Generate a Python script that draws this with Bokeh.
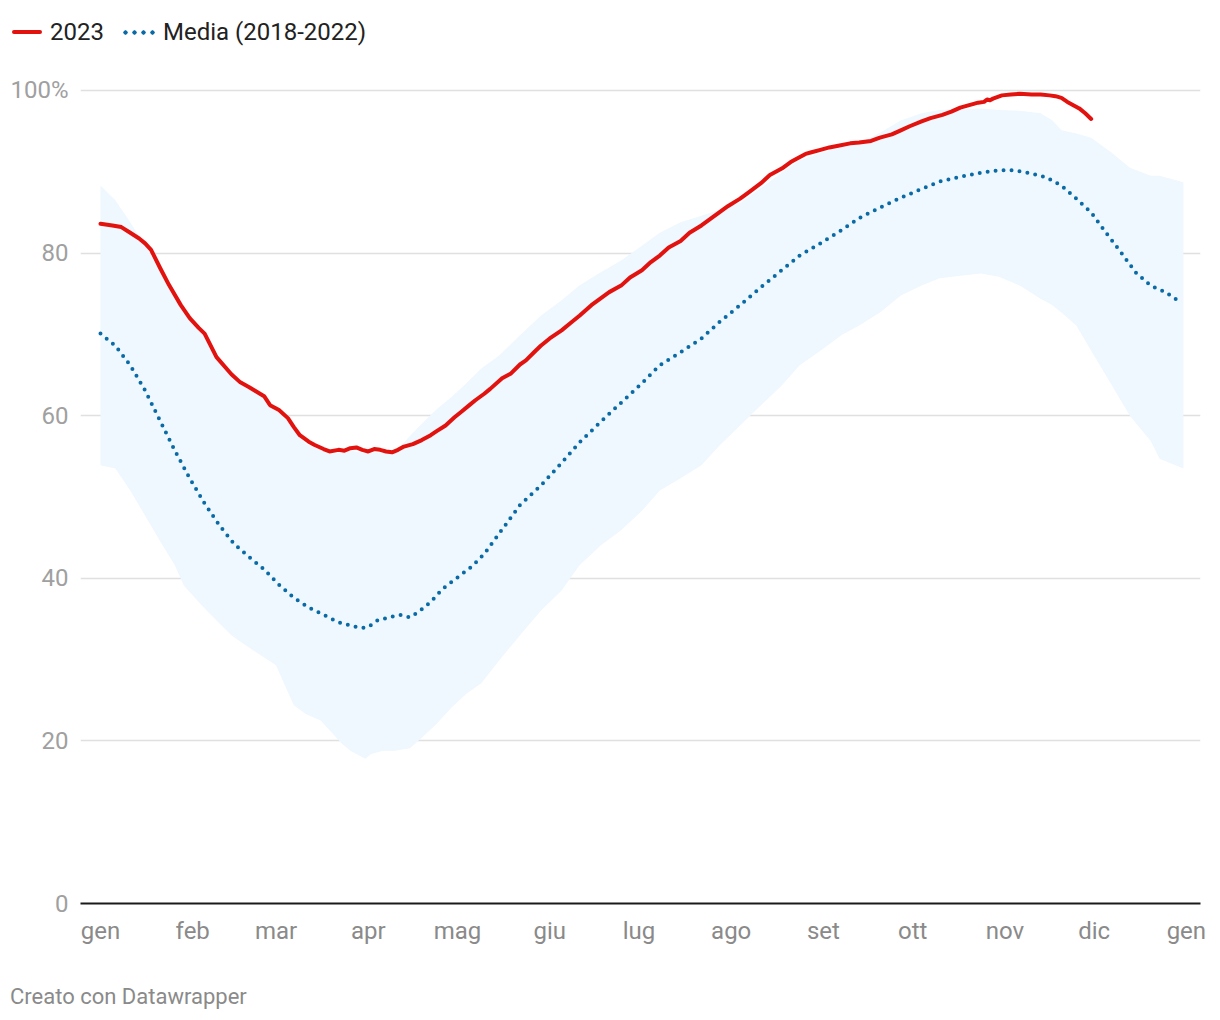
from bokeh.plotting import figure
from bokeh.layouts import column
from bokeh.models import Range1d, FixedTicker, Div
from bokeh.embed import file_html
from bokeh.resources import INLINE

# ---------------- data ----------------
month_ticks = [0, 31, 59, 90, 120, 151, 181, 212, 243, 273, 304, 334, 365]
month_labels = ["gen", "feb", "mar", "apr", "mag", "giu", "lug", "ago",
                "set", "ott", "nov", "dic", "gen"]
y_ticks = [0, 20, 40, 60, 80, 100]
series_names = ["2023", "Media (2018-2022)"]
credit = "Creato con Datawrapper"

red_days = [0, 4, 7, 10, 13, 15, 17, 20, 23, 27, 30, 33, 35, 39, 44, 47, 50, 55,
            57, 60, 63, 65, 67, 70, 72, 75, 77, 80, 82, 84, 86, 88, 90, 92, 94, 96,
            98, 100, 102, 105, 108, 111, 113, 116, 119, 121, 124, 126, 129, 131,
            135, 138, 141, 143, 146, 148, 151, 155, 158, 161, 165, 168, 171, 175,
            178, 182, 185, 188, 191, 195, 198, 202, 205, 208, 211, 215, 218, 222,
            225, 229, 232, 234, 237, 239, 242, 245, 248, 252, 255, 259, 262, 266,
            269, 272, 276, 279, 283, 286, 289, 292, 295, 297, 298, 299, 300, 303,
            306, 309, 313, 316, 319, 321, 323, 325, 327, 329, 331, 333]
red_vals = [83.6, 83.4, 83.2, 82.5, 81.8, 81.2, 80.4, 78.2, 76.1, 73.6, 72.0, 70.8,
            70.1, 67.2, 65.1, 64.1, 63.5, 62.4, 61.3, 60.7, 59.7, 58.6, 57.6, 56.8,
            56.4, 55.9, 55.6, 55.8, 55.7, 56.0, 56.1, 55.8, 55.6, 55.9, 55.8, 55.6,
            55.5, 55.8, 56.2, 56.5, 57.0, 57.6, 58.1, 58.8, 59.8, 60.4, 61.3, 61.9,
            62.7, 63.3, 64.6, 65.2, 66.3, 66.8, 67.9, 68.6, 69.5, 70.5, 71.4, 72.3,
            73.6, 74.4, 75.2, 76.0, 77.0, 77.9, 78.9, 79.7, 80.7, 81.5, 82.5, 83.4,
            84.2, 85.0, 85.8, 86.7, 87.5, 88.6, 89.6, 90.4, 91.2, 91.6, 92.2, 92.4,
            92.7, 93.0, 93.2, 93.5, 93.6, 93.8, 94.2, 94.6, 95.1, 95.6, 96.2, 96.6,
            97.0, 97.4, 97.9, 98.2, 98.5, 98.6, 98.9, 98.8, 99.0, 99.4, 99.5, 99.6,
            99.5, 99.5, 99.4, 99.3, 99.1, 98.6, 98.2, 97.8, 97.2, 96.5]

mean_days = [0, 5, 10, 15, 20, 25, 30, 35, 40, 45, 50, 55, 60, 65, 70, 75, 80, 85,
             88, 90, 93, 98, 101, 104, 107, 111, 115, 120, 125, 129, 136, 141, 148,
             155, 161, 168, 175, 182, 188, 195, 202, 208, 215, 222, 229, 235, 242,
             249, 255, 262, 269, 276, 282, 289, 296, 302, 306, 310, 313, 318, 323,
             328, 333, 338, 343, 348, 353, 358, 362]
mean_vals = [70.1, 68.6, 66.2, 63.1, 59.4, 55.7, 52.3, 49.2, 46.5, 44.2, 42.6, 41.1,
             39.2, 37.6, 36.4, 35.5, 34.6, 34.1, 33.9, 34.0, 34.8, 35.3, 35.5, 35.2,
             35.9, 37.1, 38.7, 40.1, 41.5, 43.0, 46.5, 49.0, 51.4, 54.2, 56.7, 59.2,
             61.6, 64.0, 66.2, 67.8, 69.5, 71.5, 73.6, 75.8, 77.9, 79.7, 81.2, 82.8,
             84.3, 85.6, 86.8, 87.9, 88.8, 89.4, 89.9, 90.2, 90.2, 90.0, 89.8, 89.3,
             88.3, 86.7, 85.0, 82.5, 80.1, 77.6, 76.0, 75.2, 74.2]

band_days = [0, 5, 10, 15, 20, 25, 28, 34, 39, 44, 49, 54, 59, 62, 65, 69, 74, 77,
             81, 84, 89, 91, 95, 99, 104, 108, 113, 118, 123, 128, 134, 141, 148,
             155, 161, 168, 175, 182, 188, 195, 202, 208, 215, 222, 229, 235, 242,
             249, 255, 262, 269, 276, 282, 289, 296, 302, 309, 316, 320, 323, 328,
             333, 340, 346, 353, 356, 364]
band_low = [53.9, 53.5, 50.8, 47.7, 44.6, 41.6, 39.1, 36.7, 34.8, 33.0, 31.7, 30.5,
            29.3, 26.8, 24.4, 23.3, 22.5, 21.3, 19.7, 18.8, 17.8, 18.4, 18.8, 18.8,
            19.1, 20.4, 22.1, 24.1, 25.8, 27.1, 29.9, 33.0, 36.0, 38.5, 41.6, 44.0,
            45.9, 48.3, 50.8, 52.3, 53.9, 56.3, 58.8, 61.3, 63.7, 66.2, 68.0, 69.9,
            71.1, 72.7, 74.8, 76.0, 76.9, 77.2, 77.5, 77.1, 76.0, 74.4, 73.6, 72.7,
            71.1, 68.0, 63.7, 60.0, 56.9, 54.7, 53.5]
band_high = [88.3, 86.5, 83.8, 80.9, 77.9, 75.0, 73.2, 70.3, 66.9, 64.8, 63.4, 62.4,
             60.6, 59.7, 58.3, 56.5, 55.8, 55.3, 55.4, 55.7, 55.4, 55.5, 55.4, 55.4,
             57.5, 59.0, 60.8, 62.3, 64.0, 65.8, 67.4, 69.9, 72.3, 74.2, 76.0, 77.6,
             79.1, 80.9, 82.5, 83.8, 84.6, 85.3, 86.2, 88.0, 89.9, 91.4, 92.3, 93.0,
             93.5, 94.8, 96.3, 97.2, 97.6, 97.7, 97.8, 97.6, 97.5, 97.2, 96.3, 95.1,
             94.7, 94.2, 92.3, 90.5, 89.5, 89.5, 88.7]

# ---------------- styles ----------------
FONT = "Roboto"
RED = "#e2130f"
BLUE = "#0a6aa6"
BAND = "#eef8fe"
W = 1210
LEG_H = 50
FOOT_H = 50

# ---------------- legend (HTML) ----------------
legend_html = (
    f'<div style="box-sizing:content-box;display:flex;align-items:center;height:28px;'
    f'padding:18px 0 0 12px;margin:0;'
    f'font-family:{FONT},sans-serif;font-size:24px;color:#222222;white-space:nowrap;">'
    f'<span style="display:inline-block;width:30px;height:4px;border-radius:2px;'
    f'background:{RED};"></span>'
    f'<span style="margin-left:8px;">{series_names[0]}</span>'
    f'<span style="display:inline-block;margin-left:17px;width:34px;height:5px;'
    f'background-image:radial-gradient(circle, {BLUE} 1.9px, rgba(255,255,255,0) 2.4px);'
    f'background-size:9px 5px;background-position:0 0;"></span>'
    f'<span style="margin-left:8px;">{series_names[1]}</span></div>'
)
leg_div = Div(text=legend_html, width=W, height=LEG_H, margin=0)

# ---------------- main chart ----------------
P_H = 913
p = figure(width=W, height=P_H, output_backend="svg", toolbar_location=None,
           x_range=Range1d(-6.72, 369.75), y_range=Range1d(0, 100.615),
           min_border_left=80, min_border_right=10, min_border_top=85 - LEG_H,
           min_border_bottom=P_H - (903 - LEG_H), margin=0)
p.outline_line_color = None
p.background_fill_color = "white"
p.border_fill_color = "white"

p.varea(x=band_days, y1=band_low, y2=band_high, fill_color=BAND, fill_alpha=1)
p.line(mean_days, mean_vals, line_color=BLUE, line_width=4,
       line_dash="0 8", line_cap="round")
p.line(red_days, red_vals, line_color=RED, line_width=4,
       line_join="round", line_cap="round")

p.xaxis.ticker = FixedTicker(ticks=month_ticks)
p.xaxis.major_label_overrides = {t: l for t, l in zip(month_ticks, month_labels)}
p.xaxis.axis_line_color = "#1a1a1a"
p.xaxis.axis_line_width = 2
p.xaxis.major_tick_line_color = None
p.xaxis.major_tick_out = 0
p.xaxis.major_tick_in = 0
p.xaxis.minor_tick_line_color = None
p.xaxis.major_label_text_font = FONT
p.xaxis.major_label_text_font_size = "24px"
p.xaxis.major_label_text_color = "#8a8a8a"
p.xaxis.major_label_standoff = 13

p.yaxis.ticker = FixedTicker(ticks=y_ticks)
p.yaxis.major_label_overrides = {100: "100%"}
p.yaxis.axis_line_color = None
p.yaxis.major_tick_line_color = None
p.yaxis.major_tick_out = 0
p.yaxis.major_tick_in = 0
p.yaxis.minor_tick_line_color = None
p.yaxis.major_label_text_font = FONT
p.yaxis.major_label_text_font_size = "24px"
p.yaxis.major_label_text_color = "#a0a0a0"
p.yaxis.major_label_standoff = 12

p.xgrid.grid_line_color = None
p.ygrid.grid_line_color = "#e0e0e0"
p.ygrid.grid_line_width = 1.5

# ---------------- footer (HTML) ----------------
footer_html = (
    f'<div style="padding:20px 0 0 10px;line-height:28px;font-family:{FONT},sans-serif;'
    f'font-size:22px;color:#8a8a8a;white-space:nowrap;">{credit}</div>'
)
foot_div = Div(text=footer_html, width=W, height=FOOT_H, margin=0)

layout = column(leg_div, p, foot_div, spacing=0)
open("out.html", "w").write(file_html(layout, INLINE))
